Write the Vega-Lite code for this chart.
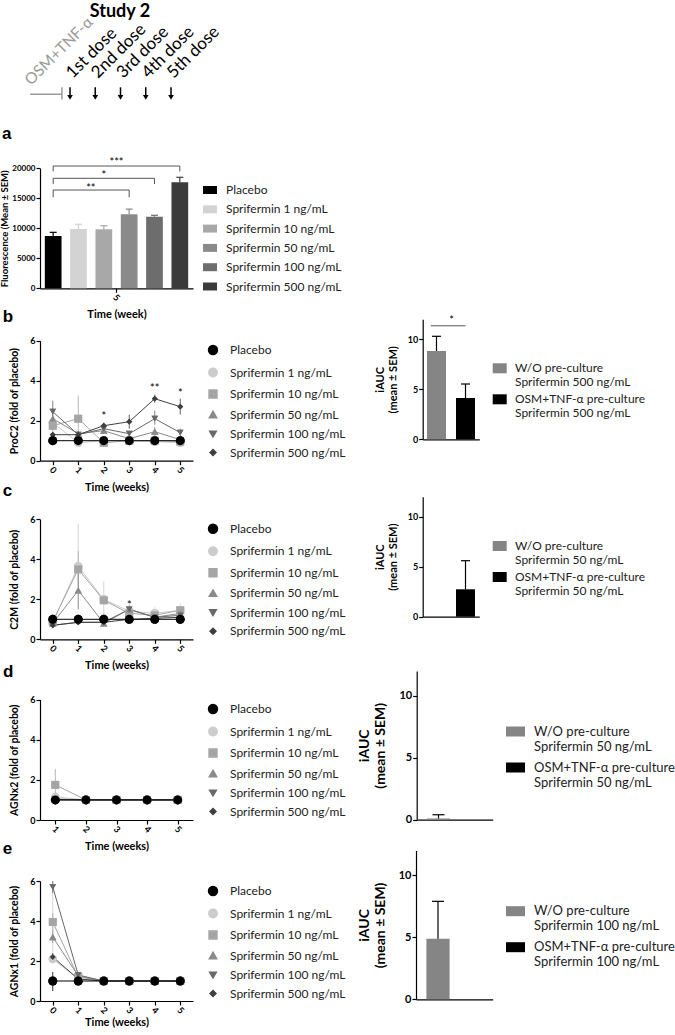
{
  "$schema": "https://vega.github.io/schema/vega-lite/v6.json",
  "width": 675,
  "height": 1035,
  "autosize": "none",
  "padding": 0,
  "background": "white",
  "config": {
    "view": {"stroke": null},
    "font": "Lato",
    "axis": {"domainColor": "#000", "tickColor": "#000", "labelColor": "#000", "titleColor": "#000", "grid": false, "labelFontWeight": "bold", "titleFontWeight": "bold", "labelFontSize": 9, "titleFontSize": 10.5, "tickSize": 4, "domainWidth": 1.2, "tickWidth": 1.2},
    "legend": {"labelFontSize": 12, "labelColor": "#222"}
  },
  "datasets": {
    "doses": [
      {"dose": 1, "label": "1st dose"},
      {"dose": 2, "label": "2nd dose"},
      {"dose": 3, "label": "3rd dose"},
      {"dose": 4, "label": "4th dose"},
      {"dose": 5, "label": "5th dose"}
    ],
    "a_bars": [
      {"series": "Placebo", "week": "5", "value": 8700, "hi": 9330},
      {"series": "Sprifermin 1 ng/mL", "week": "5", "value": 9880, "hi": 10670},
      {"series": "Sprifermin 10 ng/mL", "week": "5", "value": 9830, "hi": 10430},
      {"series": "Sprifermin 50 ng/mL", "week": "5", "value": 12330, "hi": 13200},
      {"series": "Sprifermin 100 ng/mL", "week": "5", "value": 11930, "hi": 12170},
      {"series": "Sprifermin 500 ng/mL", "week": "5", "value": 17670, "hi": 18500}
    ],
    "a_brackets": [
      {"bracket": "p500", "step": 1, "series": "Placebo", "level": 19470},
      {"bracket": "p500", "step": 2, "series": "Placebo", "level": 20380},
      {"bracket": "p500", "step": 3, "series": "Sprifermin 500 ng/mL", "level": 20380},
      {"bracket": "p500", "step": 4, "series": "Sprifermin 500 ng/mL", "level": 19470},
      {"bracket": "p100", "step": 1, "series": "Placebo", "level": 17380},
      {"bracket": "p100", "step": 2, "series": "Placebo", "level": 18330},
      {"bracket": "p100", "step": 3, "series": "Sprifermin 100 ng/mL", "level": 18330},
      {"bracket": "p100", "step": 4, "series": "Sprifermin 100 ng/mL", "level": 17380},
      {"bracket": "p50", "step": 1, "series": "Placebo", "level": 15170},
      {"bracket": "p50", "step": 2, "series": "Placebo", "level": 16380},
      {"bracket": "p50", "step": 3, "series": "Sprifermin 50 ng/mL", "level": 16380},
      {"bracket": "p50", "step": 4, "series": "Sprifermin 50 ng/mL", "level": 15170}
    ],
    "b": [
      {"series": "Sprifermin 1 ng/mL", "week": 0, "value": 1.9, "lo": 1.5, "hi": 2.3},
      {"series": "Sprifermin 1 ng/mL", "week": 1, "value": 0.9, "lo": 0.9, "hi": 0.9},
      {"series": "Sprifermin 1 ng/mL", "week": 2, "value": 1.0, "lo": 1.0, "hi": 1.0},
      {"series": "Sprifermin 1 ng/mL", "week": 3, "value": 1.0, "lo": 1.0, "hi": 1.0},
      {"series": "Sprifermin 1 ng/mL", "week": 4, "value": 0.95, "lo": 0.95, "hi": 0.95},
      {"series": "Sprifermin 1 ng/mL", "week": 5, "value": 0.9, "lo": 0.9, "hi": 0.9},
      {"series": "Sprifermin 10 ng/mL", "week": 0, "value": 1.75, "lo": 1.3, "hi": 2.2},
      {"series": "Sprifermin 10 ng/mL", "week": 1, "value": 2.1, "lo": 0.9, "hi": 3.25},
      {"series": "Sprifermin 10 ng/mL", "week": 2, "value": 0.9, "lo": 0.9, "hi": 0.9},
      {"series": "Sprifermin 10 ng/mL", "week": 3, "value": 1.0, "lo": 1.0, "hi": 1.0},
      {"series": "Sprifermin 10 ng/mL", "week": 4, "value": 1.0, "lo": 1.0, "hi": 1.0},
      {"series": "Sprifermin 10 ng/mL", "week": 5, "value": 0.95, "lo": 0.95, "hi": 0.95},
      {"series": "Sprifermin 50 ng/mL", "week": 0, "value": 2.1, "lo": 1.7, "hi": 2.5},
      {"series": "Sprifermin 50 ng/mL", "week": 1, "value": 1.35, "lo": 1.35, "hi": 1.35},
      {"series": "Sprifermin 50 ng/mL", "week": 2, "value": 1.5, "lo": 1.5, "hi": 1.5},
      {"series": "Sprifermin 50 ng/mL", "week": 3, "value": 1.1, "lo": 1.1, "hi": 1.1},
      {"series": "Sprifermin 50 ng/mL", "week": 4, "value": 1.45, "lo": 1.2, "hi": 1.7},
      {"series": "Sprifermin 50 ng/mL", "week": 5, "value": 1.05, "lo": 1.05, "hi": 1.05},
      {"series": "Sprifermin 100 ng/mL", "week": 0, "value": 2.45, "lo": 1.9, "hi": 3.0},
      {"series": "Sprifermin 100 ng/mL", "week": 1, "value": 1.3, "lo": 1.3, "hi": 1.3},
      {"series": "Sprifermin 100 ng/mL", "week": 2, "value": 1.6, "lo": 1.6, "hi": 1.6},
      {"series": "Sprifermin 100 ng/mL", "week": 3, "value": 1.35, "lo": 1.35, "hi": 1.35},
      {"series": "Sprifermin 100 ng/mL", "week": 4, "value": 2.1, "lo": 1.8, "hi": 2.5},
      {"series": "Sprifermin 100 ng/mL", "week": 5, "value": 1.4, "lo": 1.2, "hi": 1.6},
      {"series": "Sprifermin 500 ng/mL", "week": 0, "value": 1.3, "lo": 1.3, "hi": 1.3},
      {"series": "Sprifermin 500 ng/mL", "week": 1, "value": 1.3, "lo": 1.3, "hi": 1.3},
      {"series": "Sprifermin 500 ng/mL", "week": 2, "value": 1.75, "lo": 1.6, "hi": 1.9},
      {"series": "Sprifermin 500 ng/mL", "week": 3, "value": 1.95, "lo": 1.6, "hi": 2.3},
      {"series": "Sprifermin 500 ng/mL", "week": 4, "value": 3.1, "lo": 2.9, "hi": 3.3},
      {"series": "Sprifermin 500 ng/mL", "week": 5, "value": 2.7, "lo": 2.3, "hi": 3.1},
      {"series": "Placebo", "week": 0, "value": 1, "lo": 1, "hi": 1},
      {"series": "Placebo", "week": 1, "value": 1, "lo": 1, "hi": 1},
      {"series": "Placebo", "week": 2, "value": 1, "lo": 1, "hi": 1},
      {"series": "Placebo", "week": 3, "value": 1, "lo": 1, "hi": 1},
      {"series": "Placebo", "week": 4, "value": 1, "lo": 1, "hi": 1},
      {"series": "Placebo", "week": 5, "value": 1, "lo": 1, "hi": 1}
    ],
    "b_notes": [
      {"week": 2, "level": 2.17, "label": "*"},
      {"week": 4, "level": 3.6, "label": "**"},
      {"week": 5, "level": 3.33, "label": "*"},
      {"week": -1.96, "level": 7.2, "label": "b", "kind": "letter"}
    ],
    "c": [
      {"series": "Sprifermin 1 ng/mL", "week": 0, "value": 0.85, "lo": 0.85, "hi": 0.85},
      {"series": "Sprifermin 1 ng/mL", "week": 1, "value": 3.65, "lo": 1.5, "hi": 5.8},
      {"series": "Sprifermin 1 ng/mL", "week": 2, "value": 2.0, "lo": 1.1, "hi": 2.9},
      {"series": "Sprifermin 1 ng/mL", "week": 3, "value": 1.4, "lo": 1.4, "hi": 1.4},
      {"series": "Sprifermin 1 ng/mL", "week": 4, "value": 1.3, "lo": 1.0, "hi": 1.6},
      {"series": "Sprifermin 1 ng/mL", "week": 5, "value": 1.45, "lo": 1.1, "hi": 1.8},
      {"series": "Sprifermin 10 ng/mL", "week": 0, "value": 0.9, "lo": 0.9, "hi": 0.9},
      {"series": "Sprifermin 10 ng/mL", "week": 1, "value": 3.5, "lo": 2.6, "hi": 4.4},
      {"series": "Sprifermin 10 ng/mL", "week": 2, "value": 1.95, "lo": 1.95, "hi": 1.95},
      {"series": "Sprifermin 10 ng/mL", "week": 3, "value": 1.3, "lo": 1.3, "hi": 1.3},
      {"series": "Sprifermin 10 ng/mL", "week": 4, "value": 1.2, "lo": 1.2, "hi": 1.2},
      {"series": "Sprifermin 10 ng/mL", "week": 5, "value": 1.45, "lo": 1.45, "hi": 1.45},
      {"series": "Sprifermin 50 ng/mL", "week": 0, "value": 0.8, "lo": 0.8, "hi": 0.8},
      {"series": "Sprifermin 50 ng/mL", "week": 1, "value": 2.45, "lo": 1.5, "hi": 3.4},
      {"series": "Sprifermin 50 ng/mL", "week": 2, "value": 0.8, "lo": 0.8, "hi": 0.8},
      {"series": "Sprifermin 50 ng/mL", "week": 3, "value": 1.5, "lo": 1.5, "hi": 1.5},
      {"series": "Sprifermin 50 ng/mL", "week": 4, "value": 1.1, "lo": 1.1, "hi": 1.1},
      {"series": "Sprifermin 50 ng/mL", "week": 5, "value": 1.3, "lo": 1.3, "hi": 1.3},
      {"series": "Sprifermin 100 ng/mL", "week": 0, "value": 0.7, "lo": 0.7, "hi": 0.7},
      {"series": "Sprifermin 100 ng/mL", "week": 1, "value": 0.85, "lo": 0.85, "hi": 0.85},
      {"series": "Sprifermin 100 ng/mL", "week": 2, "value": 0.85, "lo": 0.85, "hi": 0.85},
      {"series": "Sprifermin 100 ng/mL", "week": 3, "value": 1.5, "lo": 1.3, "hi": 1.7},
      {"series": "Sprifermin 100 ng/mL", "week": 4, "value": 1.1, "lo": 1.1, "hi": 1.1},
      {"series": "Sprifermin 100 ng/mL", "week": 5, "value": 1.2, "lo": 1.2, "hi": 1.2},
      {"series": "Sprifermin 500 ng/mL", "week": 0, "value": 0.7, "lo": 0.7, "hi": 0.7},
      {"series": "Sprifermin 500 ng/mL", "week": 1, "value": 0.85, "lo": 0.85, "hi": 0.85},
      {"series": "Sprifermin 500 ng/mL", "week": 2, "value": 0.85, "lo": 0.85, "hi": 0.85},
      {"series": "Sprifermin 500 ng/mL", "week": 3, "value": 1.0, "lo": 1.0, "hi": 1.0},
      {"series": "Sprifermin 500 ng/mL", "week": 4, "value": 1.05, "lo": 1.05, "hi": 1.05},
      {"series": "Sprifermin 500 ng/mL", "week": 5, "value": 1.1, "lo": 1.1, "hi": 1.1},
      {"series": "Placebo", "week": 0, "value": 1, "lo": 1, "hi": 1},
      {"series": "Placebo", "week": 1, "value": 1, "lo": 1, "hi": 1},
      {"series": "Placebo", "week": 2, "value": 1, "lo": 1, "hi": 1},
      {"series": "Placebo", "week": 3, "value": 1, "lo": 1, "hi": 1},
      {"series": "Placebo", "week": 4, "value": 1, "lo": 1, "hi": 1},
      {"series": "Placebo", "week": 5, "value": 1, "lo": 1, "hi": 1}
    ],
    "c_notes": [
      {"week": 3, "level": 1.68, "label": "*"},
      {"week": -1.96, "level": 7.4, "label": "c", "kind": "letter"}
    ],
    "d": [
      {"series": "Sprifermin 1 ng/mL", "week": 1, "value": 1.15, "lo": 1.15, "hi": 1.15},
      {"series": "Sprifermin 1 ng/mL", "week": 2, "value": 1, "lo": 1, "hi": 1},
      {"series": "Sprifermin 1 ng/mL", "week": 3, "value": 1, "lo": 1, "hi": 1},
      {"series": "Sprifermin 1 ng/mL", "week": 4, "value": 1, "lo": 1, "hi": 1},
      {"series": "Sprifermin 1 ng/mL", "week": 5, "value": 1, "lo": 1, "hi": 1},
      {"series": "Sprifermin 10 ng/mL", "week": 1, "value": 1.75, "lo": 1.0, "hi": 2.55},
      {"series": "Sprifermin 10 ng/mL", "week": 2, "value": 1, "lo": 1, "hi": 1},
      {"series": "Sprifermin 10 ng/mL", "week": 3, "value": 1, "lo": 1, "hi": 1},
      {"series": "Sprifermin 10 ng/mL", "week": 4, "value": 1, "lo": 1, "hi": 1},
      {"series": "Sprifermin 10 ng/mL", "week": 5, "value": 1, "lo": 1, "hi": 1},
      {"series": "Sprifermin 50 ng/mL", "week": 1, "value": 1.05, "lo": 1.05, "hi": 1.05},
      {"series": "Sprifermin 50 ng/mL", "week": 2, "value": 1, "lo": 1, "hi": 1},
      {"series": "Sprifermin 50 ng/mL", "week": 3, "value": 1, "lo": 1, "hi": 1},
      {"series": "Sprifermin 50 ng/mL", "week": 4, "value": 1, "lo": 1, "hi": 1},
      {"series": "Sprifermin 50 ng/mL", "week": 5, "value": 1, "lo": 1, "hi": 1},
      {"series": "Sprifermin 100 ng/mL", "week": 1, "value": 1.02, "lo": 1.02, "hi": 1.02},
      {"series": "Sprifermin 100 ng/mL", "week": 2, "value": 1, "lo": 1, "hi": 1},
      {"series": "Sprifermin 100 ng/mL", "week": 3, "value": 1, "lo": 1, "hi": 1},
      {"series": "Sprifermin 100 ng/mL", "week": 4, "value": 1, "lo": 1, "hi": 1},
      {"series": "Sprifermin 100 ng/mL", "week": 5, "value": 1, "lo": 1, "hi": 1},
      {"series": "Sprifermin 500 ng/mL", "week": 1, "value": 1, "lo": 1, "hi": 1},
      {"series": "Sprifermin 500 ng/mL", "week": 2, "value": 1, "lo": 1, "hi": 1},
      {"series": "Sprifermin 500 ng/mL", "week": 3, "value": 1, "lo": 1, "hi": 1},
      {"series": "Sprifermin 500 ng/mL", "week": 4, "value": 1, "lo": 1, "hi": 1},
      {"series": "Sprifermin 500 ng/mL", "week": 5, "value": 1, "lo": 1, "hi": 1},
      {"series": "Placebo", "week": 1, "value": 1, "lo": 1, "hi": 1},
      {"series": "Placebo", "week": 2, "value": 1, "lo": 1, "hi": 1},
      {"series": "Placebo", "week": 3, "value": 1, "lo": 1, "hi": 1},
      {"series": "Placebo", "week": 4, "value": 1, "lo": 1, "hi": 1},
      {"series": "Placebo", "week": 5, "value": 1, "lo": 1, "hi": 1}
    ],
    "d_notes": [
      {"week": -0.71, "level": 7.35, "label": "d", "kind": "letter"}
    ],
    "e": [
      {"series": "Sprifermin 1 ng/mL", "week": 0, "value": 2.1, "lo": 1.9, "hi": 6.0},
      {"series": "Sprifermin 1 ng/mL", "week": 1, "value": 1.1, "lo": 1.1, "hi": 1.1},
      {"series": "Sprifermin 1 ng/mL", "week": 2, "value": 1, "lo": 1, "hi": 1},
      {"series": "Sprifermin 1 ng/mL", "week": 3, "value": 1, "lo": 1, "hi": 1},
      {"series": "Sprifermin 1 ng/mL", "week": 4, "value": 1, "lo": 1, "hi": 1},
      {"series": "Sprifermin 1 ng/mL", "week": 5, "value": 1, "lo": 1, "hi": 1},
      {"series": "Sprifermin 10 ng/mL", "week": 0, "value": 3.95, "lo": 3.5, "hi": 4.4},
      {"series": "Sprifermin 10 ng/mL", "week": 1, "value": 1.2, "lo": 1.2, "hi": 1.2},
      {"series": "Sprifermin 10 ng/mL", "week": 2, "value": 1, "lo": 1, "hi": 1},
      {"series": "Sprifermin 10 ng/mL", "week": 3, "value": 1, "lo": 1, "hi": 1},
      {"series": "Sprifermin 10 ng/mL", "week": 4, "value": 1, "lo": 1, "hi": 1},
      {"series": "Sprifermin 10 ng/mL", "week": 5, "value": 1, "lo": 1, "hi": 1},
      {"series": "Sprifermin 50 ng/mL", "week": 0, "value": 3.2, "lo": 2.9, "hi": 3.5},
      {"series": "Sprifermin 50 ng/mL", "week": 1, "value": 1.25, "lo": 1.25, "hi": 1.25},
      {"series": "Sprifermin 50 ng/mL", "week": 2, "value": 1, "lo": 1, "hi": 1},
      {"series": "Sprifermin 50 ng/mL", "week": 3, "value": 1, "lo": 1, "hi": 1},
      {"series": "Sprifermin 50 ng/mL", "week": 4, "value": 1, "lo": 1, "hi": 1},
      {"series": "Sprifermin 50 ng/mL", "week": 5, "value": 1, "lo": 1, "hi": 1},
      {"series": "Sprifermin 100 ng/mL", "week": 0, "value": 5.7, "lo": 5.4, "hi": 6.0},
      {"series": "Sprifermin 100 ng/mL", "week": 1, "value": 1.3, "lo": 1.3, "hi": 1.3},
      {"series": "Sprifermin 100 ng/mL", "week": 2, "value": 1, "lo": 1, "hi": 1},
      {"series": "Sprifermin 100 ng/mL", "week": 3, "value": 1, "lo": 1, "hi": 1},
      {"series": "Sprifermin 100 ng/mL", "week": 4, "value": 1, "lo": 1, "hi": 1},
      {"series": "Sprifermin 100 ng/mL", "week": 5, "value": 1, "lo": 1, "hi": 1},
      {"series": "Sprifermin 500 ng/mL", "week": 0, "value": 2.2, "lo": 2.0, "hi": 2.4},
      {"series": "Sprifermin 500 ng/mL", "week": 1, "value": 1.1, "lo": 1.1, "hi": 1.1},
      {"series": "Sprifermin 500 ng/mL", "week": 2, "value": 1, "lo": 1, "hi": 1},
      {"series": "Sprifermin 500 ng/mL", "week": 3, "value": 1, "lo": 1, "hi": 1},
      {"series": "Sprifermin 500 ng/mL", "week": 4, "value": 1, "lo": 1, "hi": 1},
      {"series": "Sprifermin 500 ng/mL", "week": 5, "value": 1, "lo": 1, "hi": 1},
      {"series": "Placebo", "week": 0, "value": 1, "lo": 0.5, "hi": 1.45},
      {"series": "Placebo", "week": 1, "value": 1, "lo": 1, "hi": 1},
      {"series": "Placebo", "week": 2, "value": 1, "lo": 1, "hi": 1},
      {"series": "Placebo", "week": 3, "value": 1, "lo": 1, "hi": 1},
      {"series": "Placebo", "week": 4, "value": 1, "lo": 1, "hi": 1},
      {"series": "Placebo", "week": 5, "value": 1, "lo": 1, "hi": 1}
    ],
    "e_notes": [
      {"week": -1.96, "level": 7.6, "label": "e", "kind": "letter"}
    ],
    "ib": [
      {"group": "W/O pre-culture|Sprifermin 500 ng/mL", "value": 8.83, "hi": 10.3},
      {"group": "OSM+TNF-α pre-culture|Sprifermin 500 ng/mL", "value": 4.13, "hi": 5.53}
    ],
    "ib_sig": [
      {"from": "W/O pre-culture|Sprifermin 500 ng/mL", "to": "OSM+TNF-α pre-culture|Sprifermin 500 ng/mL", "level": 11.35, "star": 11.86, "label": "*"}
    ],
    "ic": [
      {"group": "W/O pre-culture|Sprifermin 50 ng/mL", "value": 0, "hi": 0},
      {"group": "OSM+TNF-α pre-culture|Sprifermin 50 ng/mL", "value": 2.74, "hi": 5.6}
    ],
    "id": [
      {"group": "W/O pre-culture|Sprifermin 50 ng/mL", "value": 0.1, "hi": 0.4},
      {"group": "OSM+TNF-α pre-culture|Sprifermin 50 ng/mL", "value": 0, "hi": 0}
    ],
    "ie": [
      {"group": "W/O pre-culture|Sprifermin 100 ng/mL", "value": 4.89, "hi": 7.9},
      {"group": "OSM+TNF-α pre-culture|Sprifermin 100 ng/mL", "value": 0, "hi": 0}
    ]
  },
  "resolve": {
    "scale": {"x": "independent", "y": "independent", "color": "independent", "shape": "independent", "size": "independent"},
    "axis": {"x": "independent", "y": "independent"},
    "legend": {"color": "independent", "shape": "independent", "size": "independent"}
  },
  "layer": [
    {
      "layer": [
        {"data": {"name": "doses"}, "mark": {"type": "rule", "strokeWidth": 1.5, "color": "#000"},
         "encoding": {
           "x": {"field": "dose", "type": "quantitative", "scale": {"domain": [0, 6], "range": [44.75, 196.25], "nice": false, "zero": false}, "axis": null},
           "y": {"datum": 2.06, "type": "quantitative", "scale": {"domain": [0, 10], "range": [110, 0], "nice": false, "zero": false}, "axis": null},
           "y2": {"datum": 1.25}}},
        {"data": {"name": "doses"}, "mark": {"type": "point", "shape": "triangle-down", "filled": true, "color": "#000", "size": 32, "opacity": 1},
         "encoding": {"x": {"field": "dose", "type": "quantitative"}, "y": {"datum": 1.15, "type": "quantitative"}}},
        {"data": {"name": "doses"}, "mark": {"type": "text", "angle": 315, "align": "left", "baseline": "alphabetic", "fontSize": 17, "dx": 2, "dy": 2, "color": "#000"},
         "encoding": {"x": {"field": "dose", "type": "quantitative"}, "y": {"datum": 2.82, "type": "quantitative"}, "text": {"field": "label"}}},
        {"data": {"values": [{"label": "OSM+TNF-α", "pos": -0.545, "level": 2.18}]}, "mark": {"type": "text", "angle": 315, "align": "left", "baseline": "alphabetic", "fontSize": 15.5, "color": "#9a9a9a"},
         "encoding": {"x": {"field": "pos", "type": "quantitative"}, "y": {"field": "level", "type": "quantitative"}, "text": {"field": "label"}}},
        {"data": {"values": [{"label": "Study 2", "pos": 2.98, "level": 8.95}]}, "mark": {"type": "text", "align": "center", "baseline": "middle", "fontSize": 18, "fontWeight": "bold", "color": "#000"},
         "encoding": {"x": {"field": "pos", "type": "quantitative"}, "y": {"field": "level", "type": "quantitative"}, "text": {"field": "label"}}},
        {"data": {"values": [{"label": "a", "pos": -1.69, "level": -2.18}]}, "mark": {"type": "text", "align": "left", "baseline": "middle", "fontSize": 17, "fontWeight": "bold", "font": "Liberation Sans", "color": "#000"},
         "encoding": {"x": {"field": "pos", "type": "quantitative"}, "y": {"field": "level", "type": "quantitative"}, "text": {"field": "label"}}},
        {"data": {"values": [{}]}, "mark": {"type": "rule", "color": "#9a9a9a", "strokeWidth": 1.5},
         "encoding": {"x": {"datum": -0.58, "type": "quantitative"}, "x2": {"datum": 0.68}, "y": {"datum": 1.43, "type": "quantitative"}}},
        {"data": {"values": [{}]}, "mark": {"type": "rule", "color": "#9a9a9a", "strokeWidth": 1.5},
         "encoding": {"x": {"datum": 0.68, "type": "quantitative"}, "y": {"datum": 2.06, "type": "quantitative"}, "y2": {"datum": 0.95}}}
      ]
    },
    {
      "layer": [
        {"data": {"name": "a_bars"}, "mark": {"type": "bar"},
         "encoding": {
           "x": {"field": "week", "type": "nominal", "scale": {"domain": ["5"], "range": [40, 193], "paddingInner": 0, "paddingOuter": 0},
                 "axis": {"orient": "bottom", "offset": -746.7, "labelAngle": 45, "labelAlign": "center", "labelBaseline": "middle", "labelPadding": 5, "title": "Time (week)", "titleFontSize": 11, "titlePadding": 6}},
           "xOffset": {"field": "series", "type": "nominal", "scale": {"domain": ["Placebo", "Sprifermin 1 ng/mL", "Sprifermin 10 ng/mL", "Sprifermin 50 ng/mL", "Sprifermin 100 ng/mL", "Sprifermin 500 ng/mL"], "paddingInner": 0.34, "paddingOuter": 0.19}},
           "y": {"field": "value", "type": "quantitative", "scale": {"domain": [0, 20000], "range": [288.3, 168.3], "nice": false, "zero": false},
                 "axis": {"orient": "left", "offset": -40, "values": [0, 5000, 10000, 15000, 20000], "format": "d", "title": "Fluorescence (Mean ± SEM)", "labelFontSize": 8, "titleFontSize": 9.5, "labelPadding": 1, "titlePadding": 2}},
           "color": {"field": "series", "type": "nominal",
                     "scale": {"domain": ["Placebo", "Sprifermin 1 ng/mL", "Sprifermin 10 ng/mL", "Sprifermin 50 ng/mL", "Sprifermin 100 ng/mL", "Sprifermin 500 ng/mL"], "range": ["#000000", "#d3d3d3", "#a8a8a8", "#8a8a8a", "#6d6d6d", "#3b3b3b"]},
                     "legend": {"orient": "none", "legendX": 203, "legendY": 183, "title": null, "symbolType": "M-1,-0.57H1V0.57H-1Z", "symbolSize": 196, "symbolStrokeWidth": 0, "labelOffset": 9, "rowPadding": 6.3}}
         }},
        {"data": {"name": "a_bars"}, "mark": {"type": "rule", "strokeWidth": 1.2},
         "encoding": {"x": {"field": "week", "type": "nominal"}, "xOffset": {"field": "series", "type": "nominal"}, "y": {"field": "value", "type": "quantitative"}, "y2": {"field": "hi"}, "color": {"field": "series", "type": "nominal", "legend": null}}},
        {"data": {"name": "a_bars"}, "mark": {"type": "tick", "size": 7, "thickness": 1.2, "opacity": 1},
         "encoding": {"x": {"field": "week", "type": "nominal"}, "xOffset": {"field": "series", "type": "nominal"}, "y": {"field": "hi", "type": "quantitative"}, "color": {"field": "series", "type": "nominal", "legend": null}}},
        {"data": {"name": "a_brackets"}, "mark": {"type": "line", "color": "#555", "strokeWidth": 1},
         "encoding": {"x": {"datum": "5", "type": "nominal"}, "xOffset": {"field": "series", "type": "nominal"}, "y": {"field": "level", "type": "quantitative"}, "detail": {"field": "bracket"}, "order": {"field": "step"}}},
        {"data": {"values": [{"label": "***", "level": 20900}]}, "mark": {"type": "text", "fontSize": 11, "baseline": "middle", "color": "#000"},
         "encoding": {"x": {"datum": "5", "type": "nominal"}, "y": {"field": "level", "type": "quantitative"}, "text": {"field": "label"}}},
        {"data": {"values": [{"label": "*", "at": "Sprifermin 10 ng/mL", "level": 18750}]}, "mark": {"type": "text", "fontSize": 11, "baseline": "middle", "color": "#000"},
         "encoding": {"x": {"datum": "5", "type": "nominal"}, "xOffset": {"field": "at", "type": "nominal"}, "y": {"field": "level", "type": "quantitative"}, "text": {"field": "label"}}},
        {"data": {"values": [{"label": "**", "at": "Sprifermin 10 ng/mL", "level": 16470}]}, "mark": {"type": "text", "fontSize": 11, "baseline": "middle", "color": "#000", "dx": -13},
         "encoding": {"x": {"datum": "5", "type": "nominal"}, "xOffset": {"field": "at", "type": "nominal"}, "y": {"field": "level", "type": "quantitative"}, "text": {"field": "label"}}}
      ]
    },
    {
      "layer": [
        {"data": {"name": "b"}, "mark": {"type": "point", "filled": true, "opacity": 1},
         "encoding": {
           "x": {"field": "week", "type": "quantitative", "scale": {"domain": [-0.5, 5.5], "range": [40, 193], "nice": false, "zero": false},
                 "axis": {"orient": "bottom", "offset": -574.3, "values": [0, 1, 2, 3, 4, 5], "labelExpr": "datum.value + ''", "labelAngle": 45, "labelAlign": "center", "labelBaseline": "middle", "labelPadding": 5, "title": "Time (weeks)", "titleFontSize": 11, "titlePadding": 6}},
           "y": {"field": "value", "type": "quantitative", "scale": {"domain": [0, 6], "range": [460.7, 340.7], "nice": false, "zero": false},
                 "axis": {"orient": "left", "offset": -40, "values": [0, 2, 4, 6], "labelExpr": "datum.value + ''", "title": "ProC2 (fold of placebo)", "labelPadding": 1, "titlePadding": 10}},
           "color": {"field": "series", "type": "nominal", "scale": {"domain": ["Placebo", "Sprifermin 1 ng/mL", "Sprifermin 10 ng/mL", "Sprifermin 50 ng/mL", "Sprifermin 100 ng/mL", "Sprifermin 500 ng/mL"], "range": ["#000000", "#cccccc", "#a5a5a5", "#8a8a8a", "#686868", "#3f3f3f"]}, "legend": {"orient": "none", "legendX": 207, "legendY": 344, "title": null, "labelOffset": 11, "rowPadding": 6.5}},
           "shape": {"field": "series", "type": "nominal", "scale": {"domain": ["Placebo", "Sprifermin 1 ng/mL", "Sprifermin 10 ng/mL", "Sprifermin 50 ng/mL", "Sprifermin 100 ng/mL", "Sprifermin 500 ng/mL"], "range": ["circle", "circle", "square", "triangle-up", "triangle-down", "diamond"]}, "legend": {"orient": "none", "legendX": 207, "legendY": 344, "title": null, "labelOffset": 11, "rowPadding": 6.5}},
           "size": {"field": "series", "type": "nominal", "scale": {"domain": ["Placebo", "Sprifermin 1 ng/mL", "Sprifermin 10 ng/mL", "Sprifermin 50 ng/mL", "Sprifermin 100 ng/mL", "Sprifermin 500 ng/mL"], "range": [80, 34, 32, 38, 38, 26]}, "legend": {"orient": "none", "legendX": 207, "legendY": 344, "title": null, "labelOffset": 11, "rowPadding": 6.5}}}},
        {"data": {"name": "b"}, "transform": [{"filter": "datum.hi > datum.lo"}], "mark": {"type": "rule", "strokeWidth": 1, "opacity": 0.8},
         "encoding": {"x": {"field": "week", "type": "quantitative"}, "y": {"field": "lo", "type": "quantitative"}, "y2": {"field": "hi"}, "color": {"field": "series", "type": "nominal", "legend": null}}},
        {"data": {"name": "b"}, "mark": {"type": "line", "strokeWidth": 1},
         "encoding": {"x": {"field": "week", "type": "quantitative"}, "y": {"field": "value", "type": "quantitative"}, "color": {"field": "series", "type": "nominal", "legend": null}}},
        {"data": {"name": "b"}, "mark": {"type": "point", "filled": true, "opacity": 1},
         "encoding": {"x": {"field": "week", "type": "quantitative"}, "y": {"field": "value", "type": "quantitative"}, "color": {"field": "series", "type": "nominal", "legend": null}, "shape": {"field": "series", "type": "nominal", "legend": null}, "size": {"field": "series", "type": "nominal", "legend": null}}},
        {"data": {"name": "b_notes"}, "transform": [{"filter": "datum.kind !== 'letter'"}], "mark": {"type": "text", "fontSize": 11, "baseline": "middle", "color": "#000"},
         "encoding": {"x": {"field": "week", "type": "quantitative"}, "y": {"field": "level", "type": "quantitative"}, "text": {"field": "label"}}},
        {"data": {"name": "b_notes"}, "transform": [{"filter": "datum.kind === 'letter'"}], "mark": {"type": "text", "fontSize": 17, "fontWeight": "bold", "font": "Liberation Sans", "align": "left", "baseline": "middle", "color": "#000"},
         "encoding": {"x": {"field": "week", "type": "quantitative"}, "y": {"field": "level", "type": "quantitative"}, "text": {"field": "label"}}}
      ]
    },
    {
      "layer": [
        {"data": {"name": "ib"}, "mark": {"type": "bar"},
         "encoding": {
           "x": {"field": "group", "type": "nominal", "scale": {"domain": ["W/O pre-culture|Sprifermin 500 ng/mL", "OSM+TNF-α pre-culture|Sprifermin 500 ng/mL"], "range": [422.7, 479.3], "paddingInner": 0.345, "paddingOuter": 0.148},
                 "axis": {"orient": "bottom", "offset": -595.7, "labels": false, "ticks": false, "title": null}},
           "y": {"field": "value", "type": "quantitative", "scale": {"domain": [0, 12], "range": [439.3, 319.3], "nice": false, "zero": false},
                 "axis": {"orient": "left", "offset": -422.7, "values": [0, 5, 10], "labelExpr": "datum.value + ''", "title": ["iAUC", "(mean ± SEM)"], "titleFontSize": 11, "titlePadding": 9, "labelPadding": 1}},
           "color": {"field": "group", "type": "nominal", "scale": {"domain": ["W/O pre-culture|Sprifermin 500 ng/mL", "OSM+TNF-α pre-culture|Sprifermin 500 ng/mL"], "range": ["#858585", "#000000"]},
                     "legend": {"orient": "none", "legendX": 492.7, "legendY": 361.3, "title": null, "symbolType": "M-1,-0.714H1V0.714H-1Z", "symbolSize": 196, "symbolStrokeWidth": 0, "labelOffset": 8.3, "rowPadding": 4, "labelLimit": 300, "labelExpr": "split(datum.label, '|')"}}
         }},
        {"data": {"name": "ib"}, "transform": [{"filter": "datum.hi > datum.value"}], "mark": {"type": "rule", "color": "#000", "strokeWidth": 1.2},
         "encoding": {"x": {"field": "group", "type": "nominal"}, "y": {"field": "value", "type": "quantitative"}, "y2": {"field": "hi"}}},
        {"data": {"name": "ib"}, "transform": [{"filter": "datum.hi > datum.value"}], "mark": {"type": "tick", "color": "#000", "size": 9, "thickness": 1.2, "opacity": 1},
         "encoding": {"x": {"field": "group", "type": "nominal"}, "y": {"field": "hi", "type": "quantitative"}}},
        {"data": {"name": "ib_sig"}, "mark": {"type": "rule", "color": "#555", "strokeWidth": 1},
         "encoding": {"x": {"field": "from", "type": "nominal", "bandPosition": 0.2}, "x2": {"field": "to"}, "y": {"field": "level", "type": "quantitative"}}},
        {"data": {"name": "ib_sig"}, "mark": {"type": "text", "fontSize": 11, "baseline": "middle", "color": "#000"},
         "encoding": {"x": {"field": "from", "type": "nominal", "bandPosition": 1.29}, "y": {"field": "star", "type": "quantitative"}, "text": {"field": "label"}}}
      ]
    },
    {
      "layer": [
        {"data": {"name": "c"}, "mark": {"type": "point", "filled": true, "opacity": 1},
         "encoding": {
           "x": {"field": "week", "type": "quantitative", "scale": {"domain": [-0.5, 5.5], "range": [40, 193], "nice": false, "zero": false},
                 "axis": {"orient": "bottom", "offset": -395.7, "values": [0, 1, 2, 3, 4, 5], "labelExpr": "datum.value + ''", "labelAngle": 45, "labelAlign": "center", "labelBaseline": "middle", "labelPadding": 5, "title": "Time (weeks)", "titleFontSize": 11, "titlePadding": 6}},
           "y": {"field": "value", "type": "quantitative", "scale": {"domain": [0, 6], "range": [639.3, 519.3], "nice": false, "zero": false},
                 "axis": {"orient": "left", "offset": -40, "values": [0, 2, 4, 6], "labelExpr": "datum.value + ''", "title": "C2M (fold of placebo)", "labelPadding": 1, "titlePadding": 10}},
           "color": {"field": "series", "type": "nominal", "scale": {"domain": ["Placebo", "Sprifermin 1 ng/mL", "Sprifermin 10 ng/mL", "Sprifermin 50 ng/mL", "Sprifermin 100 ng/mL", "Sprifermin 500 ng/mL"], "range": ["#000000", "#cccccc", "#a5a5a5", "#8a8a8a", "#686868", "#3f3f3f"]}, "legend": {"orient": "none", "legendX": 207, "legendY": 522.7, "title": null, "labelOffset": 11, "rowPadding": 6.5}},
           "shape": {"field": "series", "type": "nominal", "scale": {"domain": ["Placebo", "Sprifermin 1 ng/mL", "Sprifermin 10 ng/mL", "Sprifermin 50 ng/mL", "Sprifermin 100 ng/mL", "Sprifermin 500 ng/mL"], "range": ["circle", "circle", "square", "triangle-up", "triangle-down", "diamond"]}, "legend": {"orient": "none", "legendX": 207, "legendY": 522.7, "title": null, "labelOffset": 11, "rowPadding": 6.5}},
           "size": {"field": "series", "type": "nominal", "scale": {"domain": ["Placebo", "Sprifermin 1 ng/mL", "Sprifermin 10 ng/mL", "Sprifermin 50 ng/mL", "Sprifermin 100 ng/mL", "Sprifermin 500 ng/mL"], "range": [80, 34, 32, 38, 38, 26]}, "legend": {"orient": "none", "legendX": 207, "legendY": 522.7, "title": null, "labelOffset": 11, "rowPadding": 6.5}}}},
        {"data": {"name": "c"}, "transform": [{"filter": "datum.hi > datum.lo"}], "mark": {"type": "rule", "strokeWidth": 1, "opacity": 0.8},
         "encoding": {"x": {"field": "week", "type": "quantitative"}, "y": {"field": "lo", "type": "quantitative"}, "y2": {"field": "hi"}, "color": {"field": "series", "type": "nominal", "legend": null}}},
        {"data": {"name": "c"}, "mark": {"type": "line", "strokeWidth": 1},
         "encoding": {"x": {"field": "week", "type": "quantitative"}, "y": {"field": "value", "type": "quantitative"}, "color": {"field": "series", "type": "nominal", "legend": null}}},
        {"data": {"name": "c"}, "mark": {"type": "point", "filled": true, "opacity": 1},
         "encoding": {"x": {"field": "week", "type": "quantitative"}, "y": {"field": "value", "type": "quantitative"}, "color": {"field": "series", "type": "nominal", "legend": null}, "shape": {"field": "series", "type": "nominal", "legend": null}, "size": {"field": "series", "type": "nominal", "legend": null}}},
        {"data": {"name": "c_notes"}, "transform": [{"filter": "datum.kind !== 'letter'"}], "mark": {"type": "text", "fontSize": 11, "baseline": "middle", "color": "#000"},
         "encoding": {"x": {"field": "week", "type": "quantitative"}, "y": {"field": "level", "type": "quantitative"}, "text": {"field": "label"}}},
        {"data": {"name": "c_notes"}, "transform": [{"filter": "datum.kind === 'letter'"}], "mark": {"type": "text", "fontSize": 17, "fontWeight": "bold", "font": "Liberation Sans", "align": "left", "baseline": "middle", "color": "#000"},
         "encoding": {"x": {"field": "week", "type": "quantitative"}, "y": {"field": "level", "type": "quantitative"}, "text": {"field": "label"}}}
      ]
    },
    {
      "layer": [
        {"data": {"name": "ic"}, "mark": {"type": "bar"},
         "encoding": {
           "x": {"field": "group", "type": "nominal", "scale": {"domain": ["W/O pre-culture|Sprifermin 50 ng/mL", "OSM+TNF-α pre-culture|Sprifermin 50 ng/mL"], "range": [422.7, 479.3], "paddingInner": 0.345, "paddingOuter": 0.148},
                 "axis": {"orient": "bottom", "offset": -418.3, "labels": false, "ticks": false, "title": null}},
           "y": {"field": "value", "type": "quantitative", "scale": {"domain": [0, 12], "range": [616.7, 496.7], "nice": false, "zero": false},
                 "axis": {"orient": "left", "offset": -422.7, "values": [0, 5, 10], "labelExpr": "datum.value + ''", "title": ["iAUC", "(mean ± SEM)"], "titleFontSize": 11, "titlePadding": 9, "labelPadding": 1}},
           "color": {"field": "group", "type": "nominal", "scale": {"domain": ["W/O pre-culture|Sprifermin 50 ng/mL", "OSM+TNF-α pre-culture|Sprifermin 50 ng/mL"], "range": ["#858585", "#000000"]},
                     "legend": {"orient": "none", "legendX": 492.7, "legendY": 539, "title": null, "symbolType": "M-1,-0.714H1V0.714H-1Z", "symbolSize": 196, "symbolStrokeWidth": 0, "labelOffset": 8.3, "rowPadding": 4, "labelLimit": 300, "labelExpr": "split(datum.label, '|')"}}
         }},
        {"data": {"name": "ic"}, "transform": [{"filter": "datum.hi > datum.value"}], "mark": {"type": "rule", "color": "#000", "strokeWidth": 1.2},
         "encoding": {"x": {"field": "group", "type": "nominal"}, "y": {"field": "value", "type": "quantitative"}, "y2": {"field": "hi"}}},
        {"data": {"name": "ic"}, "transform": [{"filter": "datum.hi > datum.value"}], "mark": {"type": "tick", "color": "#000", "size": 9, "thickness": 1.2, "opacity": 1},
         "encoding": {"x": {"field": "group", "type": "nominal"}, "y": {"field": "hi", "type": "quantitative"}}}
      ]
    },
    {
      "layer": [
        {"data": {"name": "d"}, "mark": {"type": "point", "filled": true, "opacity": 1},
         "encoding": {
           "x": {"field": "week", "type": "quantitative", "scale": {"domain": [0.5, 5.5], "range": [40, 193], "nice": false, "zero": false},
                 "axis": {"orient": "bottom", "offset": -215, "values": [1, 2, 3, 4, 5], "labelExpr": "datum.value + ''", "labelAngle": 45, "labelAlign": "center", "labelBaseline": "middle", "labelPadding": 5, "title": "Time (weeks)", "titleFontSize": 11, "titlePadding": 6}},
           "y": {"field": "value", "type": "quantitative", "scale": {"domain": [0, 6], "range": [820, 699.5], "nice": false, "zero": false},
                 "axis": {"orient": "left", "offset": -40, "values": [0, 2, 4, 6], "labelExpr": "datum.value + ''", "title": "AGNx2 (fold of placebo)", "labelPadding": 1, "titlePadding": 10}},
           "color": {"field": "series", "type": "nominal", "scale": {"domain": ["Placebo", "Sprifermin 1 ng/mL", "Sprifermin 10 ng/mL", "Sprifermin 50 ng/mL", "Sprifermin 100 ng/mL", "Sprifermin 500 ng/mL"], "range": ["#000000", "#cccccc", "#a5a5a5", "#8a8a8a", "#686868", "#3f3f3f"]}, "legend": {"orient": "none", "legendX": 207, "legendY": 703, "title": null, "labelOffset": 11, "rowPadding": 6.5}},
           "shape": {"field": "series", "type": "nominal", "scale": {"domain": ["Placebo", "Sprifermin 1 ng/mL", "Sprifermin 10 ng/mL", "Sprifermin 50 ng/mL", "Sprifermin 100 ng/mL", "Sprifermin 500 ng/mL"], "range": ["circle", "circle", "square", "triangle-up", "triangle-down", "diamond"]}, "legend": {"orient": "none", "legendX": 207, "legendY": 703, "title": null, "labelOffset": 11, "rowPadding": 6.5}},
           "size": {"field": "series", "type": "nominal", "scale": {"domain": ["Placebo", "Sprifermin 1 ng/mL", "Sprifermin 10 ng/mL", "Sprifermin 50 ng/mL", "Sprifermin 100 ng/mL", "Sprifermin 500 ng/mL"], "range": [80, 34, 32, 38, 38, 26]}, "legend": {"orient": "none", "legendX": 207, "legendY": 703, "title": null, "labelOffset": 11, "rowPadding": 6.5}}}},
        {"data": {"name": "d"}, "transform": [{"filter": "datum.hi > datum.lo"}], "mark": {"type": "rule", "strokeWidth": 1, "opacity": 0.8},
         "encoding": {"x": {"field": "week", "type": "quantitative"}, "y": {"field": "lo", "type": "quantitative"}, "y2": {"field": "hi"}, "color": {"field": "series", "type": "nominal", "legend": null}}},
        {"data": {"name": "d"}, "mark": {"type": "line", "strokeWidth": 1},
         "encoding": {"x": {"field": "week", "type": "quantitative"}, "y": {"field": "value", "type": "quantitative"}, "color": {"field": "series", "type": "nominal", "legend": null}}},
        {"data": {"name": "d"}, "mark": {"type": "point", "filled": true, "opacity": 1},
         "encoding": {"x": {"field": "week", "type": "quantitative"}, "y": {"field": "value", "type": "quantitative"}, "color": {"field": "series", "type": "nominal", "legend": null}, "shape": {"field": "series", "type": "nominal", "legend": null}, "size": {"field": "series", "type": "nominal", "legend": null}}},
        {"data": {"name": "d_notes"}, "mark": {"type": "text", "fontSize": 17, "fontWeight": "bold", "font": "Liberation Sans", "align": "left", "baseline": "middle", "color": "#000"},
         "encoding": {"x": {"field": "week", "type": "quantitative"}, "y": {"field": "level", "type": "quantitative"}, "text": {"field": "label"}}}
      ]
    },
    {
      "layer": [
        {"data": {"name": "id"}, "mark": {"type": "bar"},
         "encoding": {
           "x": {"field": "group", "type": "nominal", "scale": {"domain": ["W/O pre-culture|Sprifermin 50 ng/mL", "OSM+TNF-α pre-culture|Sprifermin 50 ng/mL"], "range": [416.7, 492.7], "paddingInner": 0.29, "paddingOuter": 0.318},
                 "axis": {"orient": "bottom", "offset": -215.3, "labels": false, "ticks": false, "title": null}},
           "y": {"field": "value", "type": "quantitative", "scale": {"domain": [0, 12], "range": [819.7, 670.9], "nice": false, "zero": false},
                 "axis": {"orient": "left", "offset": -416.7, "values": [0, 5, 10], "labelExpr": "datum.value + ''", "title": ["iAUC", "(mean ± SEM)"], "labelFontSize": 11, "titleFontSize": 14, "titlePadding": 11, "labelPadding": 1}},
           "color": {"field": "group", "type": "nominal", "scale": {"domain": ["W/O pre-culture|Sprifermin 50 ng/mL", "OSM+TNF-α pre-culture|Sprifermin 50 ng/mL"], "range": ["#858585", "#000000"]},
                     "legend": {"orient": "none", "legendX": 506, "legendY": 722, "title": null, "symbolType": "M-1,-0.526H1V0.526H-1Z", "symbolSize": 361, "symbolStrokeWidth": 0, "labelOffset": 9, "rowPadding": 4, "labelFontSize": 13, "labelLimit": 300, "labelExpr": "split(datum.label, '|')"}}
         }},
        {"data": {"name": "id"}, "transform": [{"filter": "datum.hi > datum.value"}], "mark": {"type": "rule", "color": "#000", "strokeWidth": 1.2},
         "encoding": {"x": {"field": "group", "type": "nominal"}, "y": {"field": "value", "type": "quantitative"}, "y2": {"field": "hi"}}},
        {"data": {"name": "id"}, "transform": [{"filter": "datum.hi > datum.value"}], "mark": {"type": "tick", "color": "#000", "size": 12, "thickness": 1.2, "opacity": 1},
         "encoding": {"x": {"field": "group", "type": "nominal"}, "y": {"field": "hi", "type": "quantitative"}}}
      ]
    },
    {
      "layer": [
        {"data": {"name": "e"}, "mark": {"type": "point", "filled": true, "opacity": 1},
         "encoding": {
           "x": {"field": "week", "type": "quantitative", "scale": {"domain": [-0.5, 5.5], "range": [40, 193], "nice": false, "zero": false},
                 "axis": {"orient": "bottom", "offset": -34, "values": [0, 1, 2, 3, 4, 5], "labelExpr": "datum.value + ''", "labelAngle": 45, "labelAlign": "center", "labelBaseline": "middle", "labelPadding": 5, "title": "Time (weeks)", "titleFontSize": 11, "titlePadding": 1}},
           "y": {"field": "value", "type": "quantitative", "scale": {"domain": [0, 6], "range": [1001, 881], "nice": false, "zero": false},
                 "axis": {"orient": "left", "offset": -40, "values": [0, 2, 4, 6], "labelExpr": "datum.value + ''", "title": "AGNx1 (fold of placebo)", "labelPadding": 1, "titlePadding": 10}},
           "color": {"field": "series", "type": "nominal", "scale": {"domain": ["Placebo", "Sprifermin 1 ng/mL", "Sprifermin 10 ng/mL", "Sprifermin 50 ng/mL", "Sprifermin 100 ng/mL", "Sprifermin 500 ng/mL"], "range": ["#000000", "#cccccc", "#a5a5a5", "#8a8a8a", "#686868", "#3f3f3f"]}, "legend": {"orient": "none", "legendX": 207, "legendY": 885, "title": null, "labelOffset": 11, "rowPadding": 6.5}},
           "shape": {"field": "series", "type": "nominal", "scale": {"domain": ["Placebo", "Sprifermin 1 ng/mL", "Sprifermin 10 ng/mL", "Sprifermin 50 ng/mL", "Sprifermin 100 ng/mL", "Sprifermin 500 ng/mL"], "range": ["circle", "circle", "square", "triangle-up", "triangle-down", "diamond"]}, "legend": {"orient": "none", "legendX": 207, "legendY": 885, "title": null, "labelOffset": 11, "rowPadding": 6.5}},
           "size": {"field": "series", "type": "nominal", "scale": {"domain": ["Placebo", "Sprifermin 1 ng/mL", "Sprifermin 10 ng/mL", "Sprifermin 50 ng/mL", "Sprifermin 100 ng/mL", "Sprifermin 500 ng/mL"], "range": [80, 34, 32, 38, 38, 26]}, "legend": {"orient": "none", "legendX": 207, "legendY": 885, "title": null, "labelOffset": 11, "rowPadding": 6.5}}}},
        {"data": {"name": "e"}, "transform": [{"filter": "datum.hi > datum.lo"}], "mark": {"type": "rule", "strokeWidth": 1, "opacity": 0.8},
         "encoding": {"x": {"field": "week", "type": "quantitative"}, "y": {"field": "lo", "type": "quantitative"}, "y2": {"field": "hi"}, "color": {"field": "series", "type": "nominal", "legend": null}}},
        {"data": {"name": "e"}, "mark": {"type": "line", "strokeWidth": 1},
         "encoding": {"x": {"field": "week", "type": "quantitative"}, "y": {"field": "value", "type": "quantitative"}, "color": {"field": "series", "type": "nominal", "legend": null}}},
        {"data": {"name": "e"}, "mark": {"type": "point", "filled": true, "opacity": 1},
         "encoding": {"x": {"field": "week", "type": "quantitative"}, "y": {"field": "value", "type": "quantitative"}, "color": {"field": "series", "type": "nominal", "legend": null}, "shape": {"field": "series", "type": "nominal", "legend": null}, "size": {"field": "series", "type": "nominal", "legend": null}}},
        {"data": {"name": "e_notes"}, "mark": {"type": "text", "fontSize": 17, "fontWeight": "bold", "font": "Liberation Sans", "align": "left", "baseline": "middle", "color": "#000"},
         "encoding": {"x": {"field": "week", "type": "quantitative"}, "y": {"field": "level", "type": "quantitative"}, "text": {"field": "label"}}}
      ]
    },
    {
      "layer": [
        {"data": {"name": "ie"}, "mark": {"type": "bar"},
         "encoding": {
           "x": {"field": "group", "type": "nominal", "scale": {"domain": ["W/O pre-culture|Sprifermin 100 ng/mL", "OSM+TNF-α pre-culture|Sprifermin 100 ng/mL"], "range": [416, 492.7], "paddingInner": 0.29, "paddingOuter": 0.318},
                 "axis": {"orient": "bottom", "offset": -35.7, "labels": false, "ticks": false, "title": null}},
           "y": {"field": "value", "type": "quantitative", "scale": {"domain": [0, 12], "range": [999.3, 850.5], "nice": false, "zero": false},
                 "axis": {"orient": "left", "offset": -416, "values": [0, 5, 10], "labelExpr": "datum.value + ''", "title": ["iAUC", "(mean ± SEM)"], "labelFontSize": 11, "titleFontSize": 14, "titlePadding": 11, "labelPadding": 1}},
           "color": {"field": "group", "type": "nominal", "scale": {"domain": ["W/O pre-culture|Sprifermin 100 ng/mL", "OSM+TNF-α pre-culture|Sprifermin 100 ng/mL"], "range": ["#858585", "#000000"]},
                     "legend": {"orient": "none", "legendX": 506, "legendY": 901.7, "title": null, "symbolType": "M-1,-0.526H1V0.526H-1Z", "symbolSize": 361, "symbolStrokeWidth": 0, "labelOffset": 9, "rowPadding": 4, "labelFontSize": 13, "labelLimit": 300, "labelExpr": "split(datum.label, '|')"}}
         }},
        {"data": {"name": "ie"}, "transform": [{"filter": "datum.hi > datum.value"}], "mark": {"type": "rule", "color": "#000", "strokeWidth": 1.2},
         "encoding": {"x": {"field": "group", "type": "nominal"}, "y": {"field": "value", "type": "quantitative"}, "y2": {"field": "hi"}}},
        {"data": {"name": "ie"}, "transform": [{"filter": "datum.hi > datum.value"}], "mark": {"type": "tick", "color": "#000", "size": 12, "thickness": 1.2, "opacity": 1},
         "encoding": {"x": {"field": "group", "type": "nominal"}, "y": {"field": "hi", "type": "quantitative"}}}
      ]
    }
  ]
}
